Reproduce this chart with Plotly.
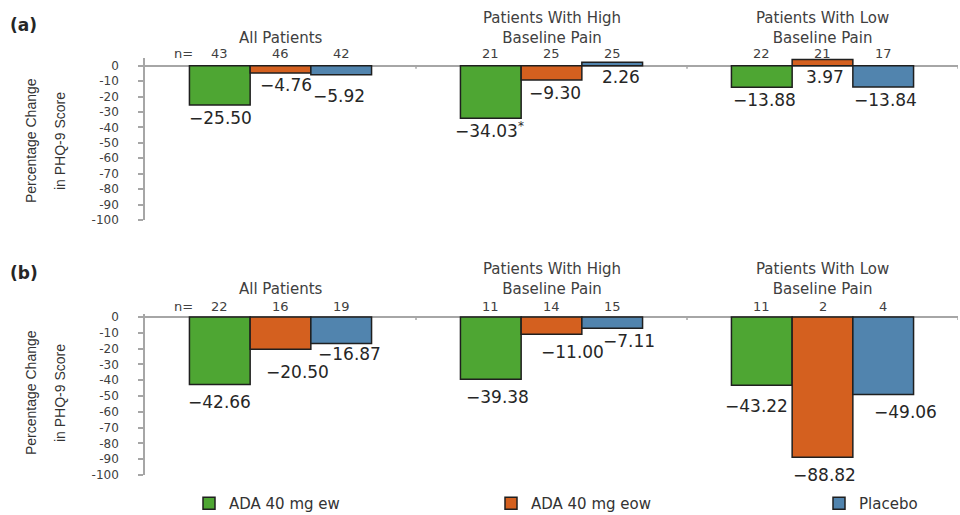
import plotly.graph_objects as go

# ---------------- data ----------------
categories = ["All Patients", "Patients With High<br>Baseline Pain", "Patients With Low<br>Baseline Pain"]
series_names = ["ADA 40 mg ew", "ADA 40 mg eow", "Placebo"]

a_ew = [-25.50, -34.03, -13.88]
a_eow = [-4.76, -9.30, 3.97]
a_placebo = [-5.92, 2.26, -13.84]
a_n_ew = [43, 21, 22]
a_n_eow = [46, 25, 21]
a_n_placebo = [42, 25, 17]
a_ew_flags = ["", "*", ""]

b_ew = [-42.66, -39.38, -43.22]
b_eow = [-20.50, -11.00, -88.82]
b_placebo = [-16.87, -7.11, -49.06]
b_n_ew = [22, 11, 11]
b_n_eow = [16, 14, 2]
b_n_placebo = [19, 15, 4]

tick_vals = [0, -10, -20, -30, -40, -50, -60, -70, -80, -90, -100]
tick_text = ["0", "-10", "-20", "-30", "-40", "-50", "-60", "-70", "-80", "-90", "-100"]

panel_labels = ["(a)", "(b)"]
y_title = ["Percentage Change", "in PHQ-9 Score"]

# ---------------- style ----------------
W, H = 960, 515
colors = ["#4ea633", "#d4601f", "#5184ae"]
outline = "#1f1f1f"
axis_gray = "#a6a6a6"
text_gray = "#404040"
bw = 0.224
FONT = "DejaVu Sans"
NARROW = "Liberation Sans, Arial, sans-serif"

x_dom = [145 / W, 958 / W]
panels = [
    dict(vals=[a_ew, a_eow, a_placebo], ns=[a_n_ew, a_n_eow, a_n_placebo],
         flags=[a_ew_flags, ["", "", ""], ["", "", ""]],
         ydom=[1 - 220 / H, 1 - 58 / H], yrange=[-100, 5],
         cat_bottom=49, n_y=54, label_y=25, title_y=141,
         dx=[[1, -1, 3], [5, 3, 2], [-2, 9, 2]],
         dy=[[13, 12, 13], [12, 13, 11], [21, 11, 13]]),
    dict(vals=[b_ew, b_eow, b_placebo], ns=[b_n_ew, b_n_eow, b_n_placebo],
         flags=[["", "", ""], ["", "", ""], ["", "", ""]],
         ydom=[1 - 475 / H, 1 - 313.8 / H], yrange=[-100, 2],
         cat_bottom=300, n_y=306, label_y=273, title_y=393,
         dx=[[0, 7, -5], [17, 21, 2], [8, 17, 22]],
         dy=[[18, 18, 21], [23, 18, 18], [10, 13, 18]]),
]

fig = go.Figure()
annotations = []
shapes = []
legend_names = ["legend", "legend2", "legend3"]

for p, P in enumerate(panels):
    xa = "x" if p == 0 else "x2"
    ya = "y" if p == 0 else "y2"
    for i in range(3):
        xs = [g + (i - 1) * bw for g in range(len(categories))]
        fig.add_trace(go.Bar(
            x=xs, y=P["vals"][i], width=bw, name=series_names[i],
            marker=dict(color=colors[i], line=dict(color=outline, width=1.5)),
            xaxis=xa, yaxis=ya, showlegend=(p == 0), legend=legend_names[i],
            hoverinfo="skip", cliponaxis=False,
        ))
        for g in range(len(categories)):
            v = P["vals"][i][g]
            txt = f"{v:.2f}".replace("-", "\u2212")
            if P["flags"][i][g]:
                txt += "<sup>" + P["flags"][i][g] + "</sup>"
            annotations.append(dict(
                x=xs[g], y=min(v, 0), xref=xa, yref=ya, text=txt, showarrow=False,
                xanchor="center", yanchor="middle", xshift=P["dx"][i][g], yshift=-P["dy"][i][g],
                font=dict(family=FONT, size=17, color="#262626")))
            annotations.append(dict(
                x=xs[g], y=1 - P["n_y"] / H, xref=xa, yref="paper", text=str(P["ns"][i][g]),
                showarrow=False, xanchor="center", yanchor="middle",
                font=dict(family=FONT, size=13, color=text_gray)))
    # "n=" prefix
    annotations.append(dict(
        x=-bw, y=1 - P["n_y"] / H, xref=xa, yref="paper", text="n=", showarrow=False,
        xanchor="right", yanchor="middle", xshift=-25,
        font=dict(family=FONT, size=13, color=text_gray)))
    # category labels
    for g, c in enumerate(categories):
        annotations.append(dict(
            x=g, y=1 - P["cat_bottom"] / H, xref=xa, yref="paper", text=c, showarrow=False,
            xanchor="center", yanchor="bottom",
            font=dict(family=FONT, size=15, color=text_gray)))
        # small boundary ticks on the zero line
        shapes.append(dict(type="line", xref=xa, yref=ya, x0=g + 0.5, x1=g + 0.5,
                           y0=0, y1=-2, line=dict(color=axis_gray, width=1.5)))
    # panel label
    annotations.append(dict(
        x=8 / W, y=1 - P["label_y"] / H, xref="paper", yref="paper", text="<b>" + panel_labels[p] + "</b>",
        showarrow=False, xanchor="left", yanchor="middle",
        font=dict(family=FONT, size=17, color="#262626")))
    # y titles
    for k, (t, xp) in enumerate(zip(y_title, [31, 60])):
        annotations.append(dict(
            x=xp / W, y=1 - P["title_y"] / H, xref="paper", yref="paper", text=t,
            showarrow=False, textangle=-90, xanchor="center", yanchor="middle",
            font=dict(family=NARROW, size=14, color="#333333")))

    axis_common = dict(
        range=P["yrange"], domain=P["ydom"], tickmode="array",
        tickvals=tick_vals, ticktext=tick_text, ticks="outside", ticklen=5,
        tickcolor=axis_gray, tickwidth=1.5, showline=True, linecolor=axis_gray, linewidth=1.5,
        zeroline=True, zerolinecolor=axis_gray, zerolinewidth=1.5, showgrid=False,
        tickfont=dict(family=FONT, size=12, color=text_gray), ticklabelstandoff=17,
        anchor=xa, fixedrange=True,
    )
    xaxis_common = dict(domain=x_dom, range=[-0.5, 2.5], showline=False, showgrid=False,
                        zeroline=False, showticklabels=False, ticks="", anchor=ya, fixedrange=True)
    if p == 0:
        fig.update_layout(yaxis=axis_common, xaxis=xaxis_common)
    else:
        fig.update_layout(yaxis2=axis_common, xaxis2=xaxis_common)

legend_x = [189, 491, 819]
leg = {}
for i, ln in enumerate(legend_names):
    leg[ln] = dict(x=legend_x[i] / W, xanchor="left", y=1 - 487 / H, yanchor="top",
                   orientation="h", bgcolor="rgba(0,0,0,0)",
                   font=dict(family=FONT, size=15, color="#333333"))

fig.update_layout(
    width=W, height=H, margin=dict(l=0, r=0, t=0, b=0, autoexpand=False),
    paper_bgcolor="white", plot_bgcolor="white",
    barmode="overlay", annotations=annotations, shapes=shapes,
    **leg,
)

fig.write_html("out.html", config={"displayModeBar": False},
               post_script="document.body.style.margin='0';document.body.style.overflow='hidden';")
